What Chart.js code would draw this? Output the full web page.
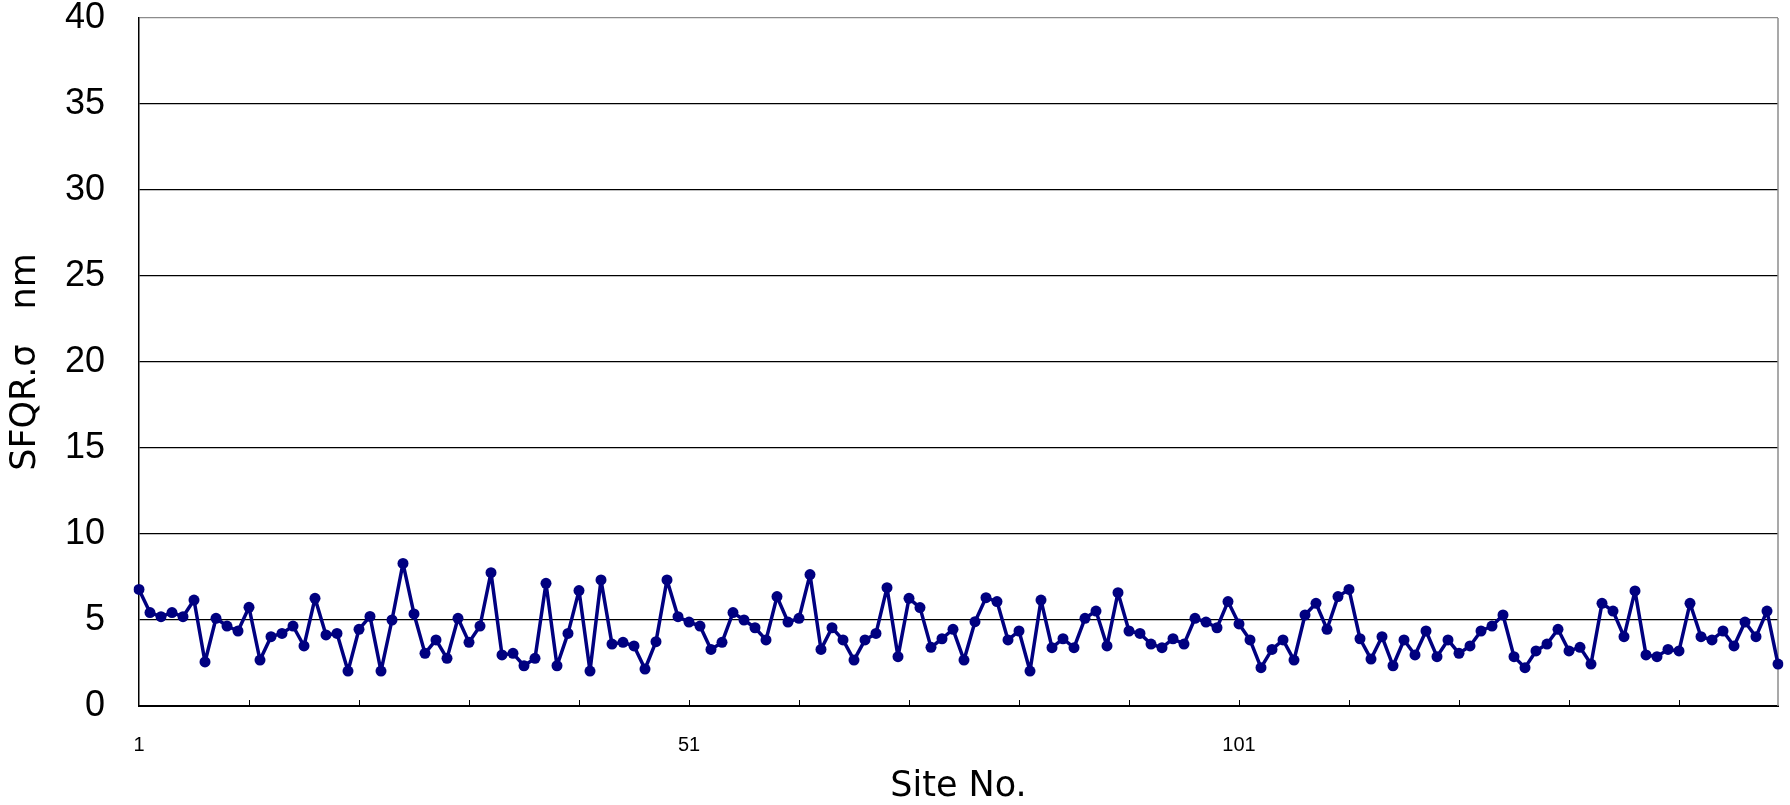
<!DOCTYPE html>
<html>
<head>
<meta charset="utf-8">
<script src="https://cdn.jsdelivr.net/npm/chart.js@4/dist/chart.umd.min.js"></script>
<style>
  html, body { margin: 0; padding: 0; background: #ffffff; }
  canvas { display: block; }
</style>
</head>
<body>
<canvas id="chart" width="1790" height="805"></canvas>
<script>
// Site numbers along the wafer (1 … 150)
const siteNumbers = Array.from({ length: 150 }, (_, i) => String(i + 1));

// SFQR sigma per site, nm
const sfqrSigma = [
  6.78, 5.43, 5.19, 5.43, 5.19, 6.16, 2.56, 5.10, 4.65, 4.36,
  5.74, 2.67, 4.03, 4.22, 4.65, 3.49, 6.26, 4.13, 4.22, 2.03,
  4.46, 5.21, 2.03, 5.00, 8.29, 5.35, 3.06, 3.84, 2.77, 5.10,
  3.70, 4.65, 7.75, 2.97, 3.06, 2.34, 2.77, 7.13, 2.34, 4.22,
  6.71, 2.03, 7.33, 3.60, 3.70, 3.49, 2.15, 3.74, 7.33, 5.19,
  4.88, 4.65, 3.29, 3.70, 5.43, 5.00, 4.55, 3.84, 6.36, 4.88,
  5.10, 7.64, 3.29, 4.55, 3.84, 2.67, 3.84, 4.22, 6.88, 2.87,
  6.26, 5.72, 3.41, 3.91, 4.46, 2.67, 4.90, 6.30, 6.07, 3.84,
  4.36, 2.03, 6.16, 3.39, 3.91, 3.39, 5.10, 5.52, 3.49, 6.59,
  4.36, 4.22, 3.60, 3.39, 3.91, 3.60, 5.10, 4.88, 4.55, 6.07,
  4.77, 3.84, 2.23, 3.29, 3.84, 2.67, 5.29, 5.97, 4.46, 6.36,
  6.78, 3.91, 2.73, 4.03, 2.34, 3.84, 2.97, 4.36, 2.87, 3.84,
  3.06, 3.49, 4.36, 4.65, 5.29, 2.87, 2.23, 3.20, 3.60, 4.46,
  3.20, 3.41, 2.44, 5.97, 5.52, 4.03, 6.69, 2.97, 2.87, 3.29,
  3.20, 5.97, 4.03, 3.84, 4.36, 3.49, 4.88, 4.03, 5.52, 2.44
];

// Sites whose number is printed under the axis
const labeledSites = ['1', '51', '101'];

// Value axis range
const yMin = 0;
const yMax = 40;
const yStep = 5;

const FONT_FAMILY = '"Liberation Sans", Arial, "Noto Sans CJK JP", sans-serif';
const TITLE_FAMILY = '"DejaVu Sans", "Noto Sans CJK JP", sans-serif';
const LINE_COLOR = '#000080';

// Small upward tick marks on the category axis every 10 sites,
// plus the light frame on the right side of the plot area.
const axisDecor = {
  id: 'axisDecor',
  beforeDatasetsDraw(chart) {
    const { ctx, chartArea, scales } = chart;
    const x = scales.x;
    ctx.save();
    ctx.strokeStyle = '#000000';
    ctx.lineWidth = 1;
    ctx.beginPath();
    for (let i = 10; i < siteNumbers.length; i += 10) {
      const px = Math.round(x.getPixelForValue(i)) + 0.5;
      ctx.moveTo(px, chartArea.bottom);
      ctx.lineTo(px, chartArea.bottom - 6);
    }
    ctx.stroke();
    ctx.strokeStyle = '#8c8c8c';
    ctx.lineWidth = 1.5;
    ctx.beginPath();
    ctx.moveTo(chartArea.right, chartArea.top);
    ctx.lineTo(chartArea.right, chartArea.bottom);
    ctx.stroke();
    ctx.restore();
  }
};

new Chart(document.getElementById('chart'), {
  type: 'line',
  data: {
    labels: siteNumbers,
    datasets: [{
      data: sfqrSigma,
      borderColor: LINE_COLOR,
      backgroundColor: LINE_COLOR,
      borderWidth: 3.5,
      borderJoinStyle: 'round',
      borderCapStyle: 'round',
      pointRadius: 5.5,
      pointBorderWidth: 0,
      pointBackgroundColor: LINE_COLOR,
      tension: 0,
      fill: false
    }]
  },
  options: {
    responsive: false,
    animation: false,
    events: [],
    layout: { padding: { top: 18, right: 12, bottom: 0, left: 0 } },
    plugins: {
      legend: { display: false },
      tooltip: { enabled: false }
    },
    scales: {
      x: {
        type: 'category',
        offset: false,
        grid: { display: false },
        border: { display: true, color: '#000000', width: 2 },
        ticks: {
          autoSkip: false,
          maxRotation: 0,
          minRotation: 0,
          padding: 19,
          color: '#000000',
          font: { family: FONT_FAMILY, size: 20 },
          callback(value) {
            const label = this.getLabelForValue(value);
            return labeledSites.includes(label) ? label : '';
          }
        },
        title: {
          display: true,
          text: 'Site No.',
          color: '#000000',
          font: { family: TITLE_FAMILY, size: 35, lineHeight: 1 },
          padding: { top: 0, bottom: 1 }
        },
        afterFit(scale) {
          scale.height = 99;
          scale.paddingLeft = 0;
          scale.paddingRight = 0;
        }
      },
      y: {
        min: yMin,
        max: yMax,
        grid: {
          drawTicks: false,
          lineWidth: 1.3,
          color: (c) => (c.tick && c.tick.value === yMax ? '#8c8c8c' : '#000000')
        },
        border: { display: true, color: '#000000', width: 1.5 },
        ticks: {
          stepSize: yStep,
          padding: 34,
          color: '#000000',
          font: { family: FONT_FAMILY, size: 36, lineHeight: 1 }
        },
        title: {
          display: true,
          text: 'SFQR.σ\u3000nm',
          color: '#000000',
          font: { family: TITLE_FAMILY, size: 35, lineHeight: 1 },
          padding: { top: 8, bottom: 0 }
        },
        afterFit(scale) {
          scale.width = 139;
          scale.paddingTop = 0;
          scale.paddingBottom = 0;
        }
      }
    }
  },
  plugins: [axisDecor]
});
</script>
</body>
</html>
